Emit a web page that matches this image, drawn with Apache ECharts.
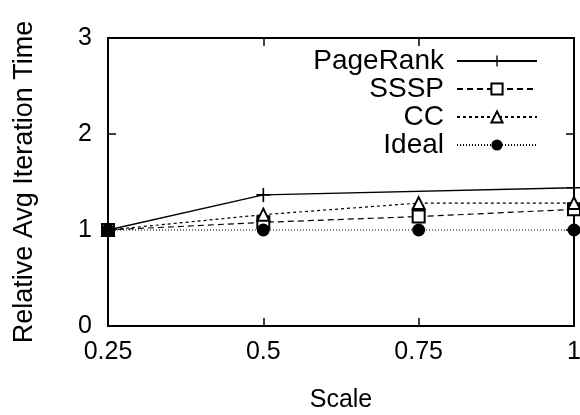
<!DOCTYPE html>
<html>
<head>
<meta charset="utf-8">
<script src="https://cdn.jsdelivr.net/npm/echarts@6/dist/echarts.min.js"></script>
<style>
  html, body { margin: 0; padding: 0; background: #fff; }
  #chart { width: 580px; height: 415px; }
</style>
</head>
<body>
<div id="chart"></div>
<script>
// data
var scales = [0.25, 0.5, 0.75, 1];
var pageRank = [1, 1.365, null, 1.44];
var sssp = [1, 1.08, 1.14, 1.215];
var cc = [1, 1.16, 1.28, 1.28];
var ideal = [1, 1, 1, 1];

var FONT = "Liberation Sans";
var plusPath = "path://M4.4,0H5.6V4.4H10V5.6H5.6V10H4.4V5.6H0V4.4H4.4Z";

function pairs(vals) {
  return scales.map(function (x, i) { return [x, vals[i]]; });
}

// box axes: thick line, short ticks pointing inwards
function frame(extra) {
  return Object.assign({
    gridIndex: 0,
    axisLine: { show: true, onZero: false, lineStyle: { color: "#000", width: 2 } },
    axisTick: { show: true, inside: true, length: 8, lineStyle: { color: "#000", width: 1.5 } },
    splitLine: { show: false }
  }, extra);
}

var chart = echarts.init(document.getElementById("chart"));

var opt = {
  animation: false,
  backgroundColor: "#fff",
  textStyle: { fontFamily: FONT, color: "#000" },
  grid: {
    left: 108, right: 6, top: 38, bottom: 89,
    outerBoundsMode: "none",
    show: true, borderColor: "#000", borderWidth: 2
  },
  legend: {
    right: 37,
    top: 42,
    orient: "vertical",
    align: "right",
    itemWidth: 80,
    itemHeight: 14,
    itemGap: 0,
    textStyle: { fontFamily: FONT, fontSize: 28, color: "#000", lineHeight: 28, padding: [0, 8, 0, 0] },
    data: ["PageRank", "SSSP", "CC", "Ideal"]
  },
  xAxis: [
    frame({
      type: "value",
      min: 0.25,
      max: 1,
      interval: 0.25,
      name: "Scale",
      nameLocation: "middle",
      nameGap: 62,
      nameTextStyle: { fontFamily: FONT, fontSize: 25, color: "#000" },
      axisLabel: { fontFamily: FONT, fontSize: 25, color: "#000", margin: 14 }
    }),
    frame({
      type: "value",
      position: "top",
      min: 0.25,
      max: 1,
      interval: 0.25,
      axisLabel: { show: false }
    })
  ],
  yAxis: [
    frame({
      type: "value",
      min: 0,
      max: 3,
      interval: 1,
      name: "Relative Avg Iteration Time",
      nameLocation: "middle",
      nameGap: 70,
      nameTextStyle: { fontFamily: FONT, fontSize: 27, color: "#000" },
      axisLabel: { fontFamily: FONT, fontSize: 25, color: "#000", margin: 16 }
    }),
    frame({
      type: "value",
      position: "right",
      min: 0,
      max: 3,
      interval: 1,
      axisLabel: { show: false }
    })
  ],
  series: [
    {
      name: "PageRank",
      type: "line",
      data: pairs(pageRank),
      connectNulls: true,
      symbol: plusPath,
      symbolSize: 14,
      itemStyle: { color: "#000" },
      lineStyle: { color: "#000", width: 1.3, type: "solid" }
    },
    {
      name: "SSSP",
      type: "line",
      data: pairs(sssp),
      symbol: "emptyRect",
      symbolSize: 12,
      itemStyle: { color: "#000", borderWidth: 1 },
      lineStyle: { color: "#000", width: 1.2, type: [6, 4] }
    },
    {
      name: "CC",
      type: "line",
      data: pairs(cc),
      symbol: "emptyTriangle",
      symbolSize: 12,
      itemStyle: { color: "#000", borderWidth: 1 },
      lineStyle: { color: "#000", width: 1.2, type: [3, 3] }
    },
    {
      // same scales as the main axes; on the mirror axes
      name: "Ideal",
      type: "line",
      xAxisIndex: 1,
      yAxisIndex: 1,
      data: pairs(ideal),
      symbol: "circle",
      symbolSize: 13,
      itemStyle: { color: "#000" },
      lineStyle: { color: "#000", width: 1, type: [1, 2] }
    }
  ]
};

chart.setOption(opt);
</script>
</body>
</html>
